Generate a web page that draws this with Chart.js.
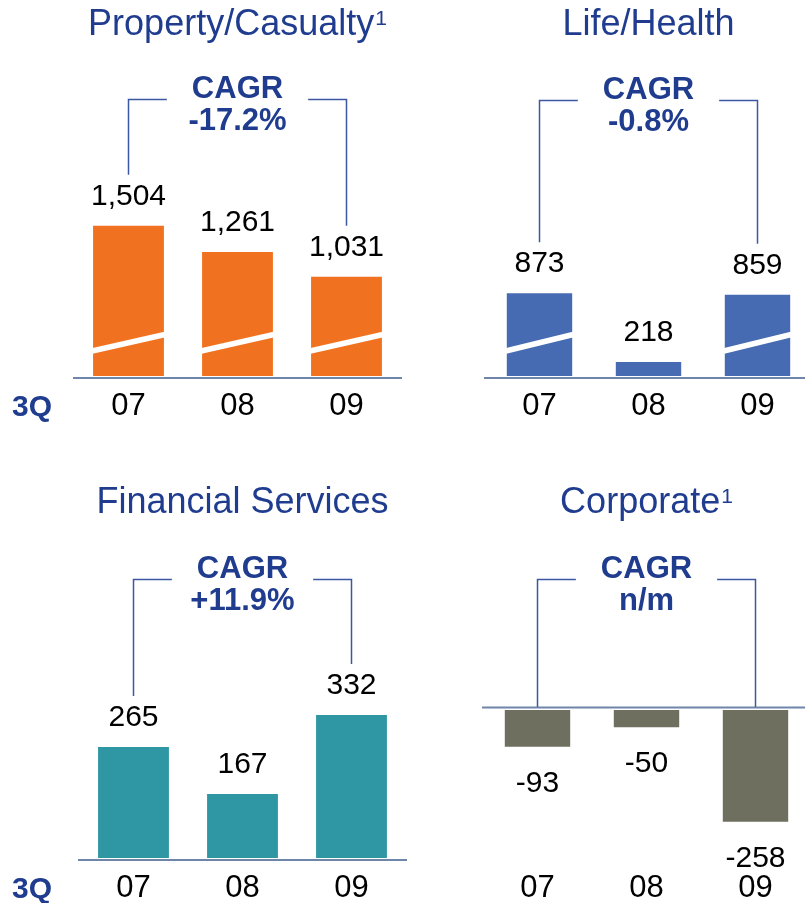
<!DOCTYPE html>
<html>
<head>
<meta charset="utf-8">
<script src="https://cdn.jsdelivr.net/npm/chart.js@4.4.1/dist/chart.umd.min.js"></script>
<style>
  html, body { margin: 0; padding: 0; background: #fff; }
  body { width: 805px; height: 903px; overflow: hidden; position: relative; }
  canvas { position: absolute; }
</style>
</head>
<body>
<canvas id="pc"></canvas>
<canvas id="lh"></canvas>
<canvas id="fs"></canvas>
<canvas id="corp"></canvas>
<script>
// data
var years = ['07', '08', '09'];
var pcValues = [1504, 1261, 1031];
var lhValues = [873, 218, 859];
var fsValues = [265, 167, 332];
var corpValues = [-93, -50, -258];
var pcBroken = [true, true, true];
var lhBroken = [true, false, true];
var noBreak = [false, false, false];
var cagrLabels = ['-17.2%', '-0.8%', '+11.9%', 'n/m'];
var panelTitles = ['Property/Casualty', 'Life/Health', 'Financial Services', 'Corporate'];
var titleSup = ['1', '', '', '1'];
var periodLabel = '3Q';

var FONT = "'Liberation Sans', Arial, Helvetica, sans-serif";
var BLUE = '#1f3c8f';
var LINE = '#3d58a3';
var AXIS = '#6f86aa';

// page layout of each panel (box = canvas, area = plot area, page coords)
var panels = [
  {id: 'pc', values: pcValues, broken: pcBroken, color: '#f07220', min: 110, max: 2300, bar: 0.65, q: true,
   box: {l: 0, t: 0, w: 410, h: 451}, area: {l: 74, r: 401, t: 140, b: 376}, titleY: 35, cagrY: 98},
  {id: 'lh', values: lhValues, broken: lhBroken, color: '#466bb3', min: 85, max: 2330, bar: 0.6, q: false,
   box: {l: 402, t: 0, w: 420, h: 451}, area: {l: 485, r: 812, t: 140, b: 376}, titleY: 35, cagrY: 99},
  {id: 'fs', values: fsValues, broken: noBreak, color: '#2e97a3', min: 33, max: 489, bar: 0.65, q: true,
   box: {l: 0, t: 451, w: 410, h: 452}, area: {l: 79, r: 406, t: 640, b: 858}, titleY: 513, cagrY: 578},
  {id: 'corp', values: corpValues, broken: noBreak, color: '#6e6f5e', min: -338, max: -12, bar: 0.6, q: false,
   box: {l: 402, t: 451, w: 420, h: 452}, area: {l: 483, r: 810, t: 710, b: 858}, titleY: 513, cagrY: 578}
];

var panelPlugin = {
  id: 'panel',
  afterDatasetsDraw: function(chart, args, o) {
    var ctx = chart.ctx, area = chart.chartArea;
    var meta = chart.getDatasetMeta(0);
    var base = chart.scales.y.getBasePixel();
    var neg = chart.data.datasets[0].data[0] < 0;
    ctx.save();
    // broken bar marks
    meta.data.forEach(function(bar, i) {
      if (!o.broken[i]) return;
      var p = bar.getProps(['x', 'width'], true);
      ctx.strokeStyle = '#fff';
      ctx.lineWidth = 5.5;
      ctx.beginPath();
      ctx.moveTo(p.x - p.width / 2 - 1, base - 25);
      ctx.lineTo(p.x + p.width / 2 + 1, base - 41.5);
      ctx.stroke();
    });
    // base line
    ctx.strokeStyle = AXIS;
    ctx.lineWidth = 2;
    ctx.beginPath();
    ctx.moveTo(area.left - 1, base + (neg ? -2.5 : 2));
    ctx.lineTo(area.right + 1, base + (neg ? -2.5 : 2));
    ctx.stroke();
    ctx.restore();
  },
  afterDraw: function(chart, args, o) {
    var ctx = chart.ctx, area = chart.chartArea;
    var meta = chart.getDatasetMeta(0);
    var vals = chart.data.datasets[0].data;
    var base = chart.scales.y.getBasePixel();
    var cx = (area.left + area.right) / 2;
    ctx.save();

    // title with optional superscript
    ctx.fillStyle = BLUE;
    ctx.textBaseline = 'alphabetic';
    ctx.font = '36px ' + FONT;
    var tw = ctx.measureText(o.title).width;
    ctx.font = '21px ' + FONT;
    var sw = o.sup ? ctx.measureText(o.sup).width + 1 : 0;
    var tx = cx - (tw + sw) / 2;
    ctx.textAlign = 'left';
    ctx.font = '36px ' + FONT;
    ctx.fillText(o.title, tx, o.titleY);
    if (o.sup) {
      ctx.font = '21px ' + FONT;
      ctx.fillText(o.sup, tx + tw + 1, o.titleY - 10);
    }

    // value labels
    ctx.fillStyle = '#000';
    ctx.font = '30px ' + FONT;
    ctx.textAlign = 'center';
    meta.data.forEach(function(bar, i) {
      var p = bar.getProps(['x', 'y'], true);
      var txt = vals[i].toLocaleString('en-US');
      if (vals[i] >= 0) ctx.fillText(txt, p.x, p.y - 21);
      else ctx.fillText(txt, p.x, p.y + 45);
    });

    // CAGR text
    ctx.fillStyle = BLUE;
    ctx.font = 'bold 31px ' + FONT;
    ctx.fillText('CAGR', cx, o.cagrY);
    ctx.fillText(o.cagr, cx, o.cagrY + 32);
    var cw = ctx.measureText('CAGR').width;

    // bracket
    var first = meta.data[0].getProps(['x', 'y'], true);
    var last = meta.data[meta.data.length - 1].getProps(['x', 'y'], true);
    var hy = o.cagrY + 1.5;
    function endY(p, v) { return v >= 0 ? p.y - 51 : base - 3; }
    ctx.strokeStyle = LINE;
    ctx.lineWidth = 1.5;
    ctx.beginPath();
    ctx.moveTo(first.x, endY(first, vals[0]));
    ctx.lineTo(first.x, hy);
    ctx.lineTo(cx - cw / 2 - 25, hy);
    ctx.moveTo(cx + cw / 2 + 25, hy);
    ctx.lineTo(last.x, hy);
    ctx.lineTo(last.x, endY(last, vals[vals.length - 1]));
    ctx.stroke();

    // period label
    if (o.q) {
      ctx.fillStyle = BLUE;
      ctx.font = 'bold 30px ' + FONT;
      ctx.textAlign = 'left';
      ctx.fillText(periodLabel, 12 - o.offsetX, area.bottom + 40);
    }
    ctx.restore();
  }
};

panels.forEach(function(pn, k) {
  var cv = document.getElementById(pn.id);
  cv.width = pn.box.w;
  cv.height = pn.box.h;
  cv.style.left = pn.box.l + 'px';
  cv.style.top = pn.box.t + 'px';
  var a = {
    l: pn.area.l - pn.box.l, r: pn.area.r - pn.box.l,
    t: pn.area.t - pn.box.t, b: pn.area.b - pn.box.t
  };
  var axisH = pn.box.h - a.b;
  new Chart(cv.getContext('2d'), {
    type: 'bar',
    data: {
      labels: years,
      datasets: [{
        data: pn.values,
        backgroundColor: pn.color,
        borderWidth: 0,
        barPercentage: pn.bar,
        categoryPercentage: 1
      }]
    },
    options: {
      responsive: false,
      animation: false,
      devicePixelRatio: 1,
      layout: { padding: { left: a.l, right: pn.box.w - a.r, top: a.t, bottom: 0 } },
      plugins: {
        legend: { display: false },
        tooltip: { enabled: false },
        panel: {
          broken: pn.broken,
          title: panelTitles[k],
          sup: titleSup[k],
          cagr: cagrLabels[k],
          q: pn.q,
          offsetX: pn.box.l,
          titleY: pn.titleY - pn.box.t,
          cagrY: pn.cagrY - pn.box.t
        }
      },
      scales: {
        x: {
          grid: { display: false, drawTicks: false },
          border: { display: false },
          ticks: { color: '#000', font: { family: FONT, size: 31 }, padding: 12, maxRotation: 0 },
          afterFit: function(scale) { scale.height = axisH; }
        },
        y: { display: false, min: pn.min, max: pn.max }
      }
    },
    plugins: [panelPlugin]
  });
});
</script>
</body>
</html>
